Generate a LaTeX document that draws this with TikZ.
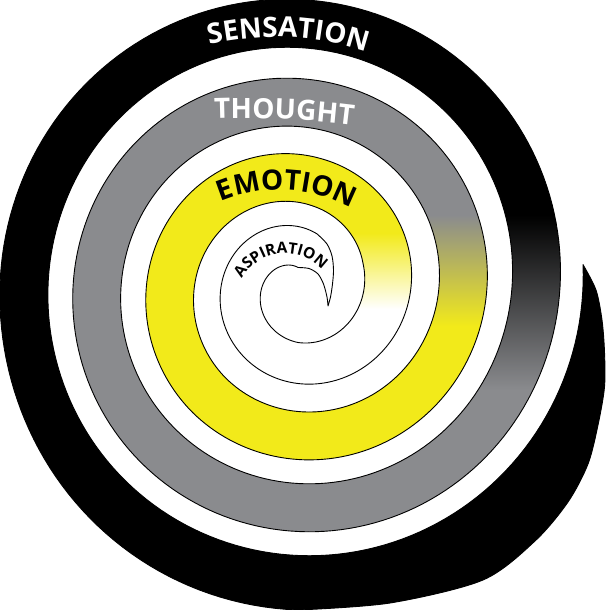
\documentclass[tikz,border=0pt]{standalone}
\usepackage{fontspec}
\newfontfamily\lab{Open Sans}
\usetikzlibrary{decorations.text}
\definecolor{bandgray}{RGB}{138,139,142}
\definecolor{bandyel}{RGB}{242,234,26}
\newcommand\RAMPa{((((\x)-850)/150)*((\x)>850)*((\x)<1000)+((\x)>999.9999))}
\newcommand\RAMPb{((((\x)-1060)/110)*((\x)>1060)*((\x)<1170)+((\x)>1169.9999))}
\newcommand\RBx{(333-0.2*(\x)+(abs((\x)-270)<120)*3.5*(1+cos(1.5*((\x)-270)))+1.5*sin(\x)*sin(\x)-4*\RAMPa)}
\newcommand\ROx{(\RBx+((\x)<180)*6.5*sin(\x)*sin(\x))}
\newcommand\RIx{(\RBx-48+7*\RAMPb)}
\tikzset{
  outline/.style={draw=black,line width=0.9pt,line join=round},
  oarcstart/.style n args={3}{insert path={plot[domain=#1:#2,samples=#3] ({298+\ROx*cos(\x)},{287+\ROx*sin(\x)})}},
  oarc/.style n args={3}{insert path={-- plot[domain=#1:#2,samples=#3] ({298+\ROx*cos(\x)},{287+\ROx*sin(\x)})}},
  iarc/.style n args={3}{insert path={-- plot[domain=#1:#2,samples=#3] ({298+\RIx*cos(\x)},{287+\RIx*sin(\x)})}}
}
\begin{document}
\begin{tikzpicture}[x=1pt,y=-1pt]
\useasboundingbox (0,0) rectangle (605,610);
\fill[white] (0,0) rectangle (605,610);
% black turn with tail
\fill[black] plot[smooth] coordinates {(583.0,264.6) (596,290) (602,320) (604.5,352) (604.5,387) (598,425) (588,464) (568,502) (535,541) (483,580) (390,603) (298,610)}
  [oarc={90}{320.5}{116}] [iarc={320.5}{-4.5}{164}] -- cycle;
% black -> gray (vertical gradient on the right side)
\begin{scope}
  \clip [oarcstart={320}{410}{46}] [iarc={410}{320}{46}] -- cycle;
  \fill[black] (300,0) rectangle (605,215.5);
  \shade[top color=black,bottom color=bandgray] (300,215) rectangle (605,390);
  \fill[bandgray] (300,389.5) rectangle (605,610);
\end{scope}
% gray
\fill[bandgray] [oarcstart={409.5}{680.5}{136}] [iarc={680.5}{409.5}{136}] -- cycle;
% gray -> yellow
\begin{scope}
  \clip [oarcstart={680}{750}{36}] [iarc={750}{680}{36}] -- cycle;
  \fill[bandgray] (300,0) rectangle (605,215.5);
  \shade[top color=bandgray,bottom color=bandyel] (300,215) rectangle (605,326);
  \fill[bandyel] (300,325.5) rectangle (605,610);
\end{scope}
% yellow
\fill[bandyel] [oarcstart={749.5}{1030.5}{142}] [iarc={1030.5}{749.5}{142}] -- cycle;
% yellow -> white
\begin{scope}
  \clip [oarcstart={1030}{1110}{41}] [iarc={1110}{1030}{41}] -- cycle;
  \fill[bandyel] (300,0) rectangle (605,233.5);
  \shade[top color=bandyel,bottom color=white] (300,233) rectangle (605,309);
  \fill[white] (300,308.5) rectangle (605,610);
\end{scope}
% outline of the whole band
\draw[outline] plot[smooth] coordinates {(583.0,264.6) (596,290) (602,320) (604.5,352) (604.5,387) (598,425) (588,464) (568,502) (535,541) (483,580) (390,603) (298,610)}
  [oarc={90}{1370}{641}]
  -- plot[smooth] coordinates {(317.3,234.1) (327,244) (332,256) (333.5,270) (332.5,284) (330.5,297) (328,306)}
  -- plot[smooth] coordinates {(328,306) (327,297) (323.5,284) (318,274) (309,268.5) (298,267.5)}
  [iarc={1350}{-4.5}{678}] -- cycle;
% labels
\path[decorate,decoration={text along path,text align=center,
  text={|\lab\bfseries\fontsize{28}{30}\selectfont\color{white}|SENSATION}}]
  plot[domain=-112.4:-62.4,samples=60] ({275+290*cos(\x)},{327+290*sin(\x)});
\path[decorate,decoration={text along path,text align=center,
  text={|\lab\bfseries\fontsize{28}{30}\selectfont\color{white}|THOUGHT}}]
  plot[domain=-95.2:-79.2,samples=40] ({240+900*cos(\x)},{1018+900*sin(\x)});
\path[decorate,decoration={text along path,text align=center,
  text={|\lab\bfseries\fontsize{28}{30}\selectfont\color{black}|EMOTION}}]
  plot[domain=-135:-39,samples=60] ({279+150*cos(\x)},{340+150*sin(\x)});
\path[decorate,decoration={text along path,text align=center,
  text={|\lab\bfseries\fontsize{15.5}{17}\selectfont\color{black}|ASPIRATION}}]
  plot[domain=-176.3:-16.3,samples=80] ({285+49.5*cos(\x)},{303+49.5*sin(\x)});
\end{tikzpicture}
\end{document}
